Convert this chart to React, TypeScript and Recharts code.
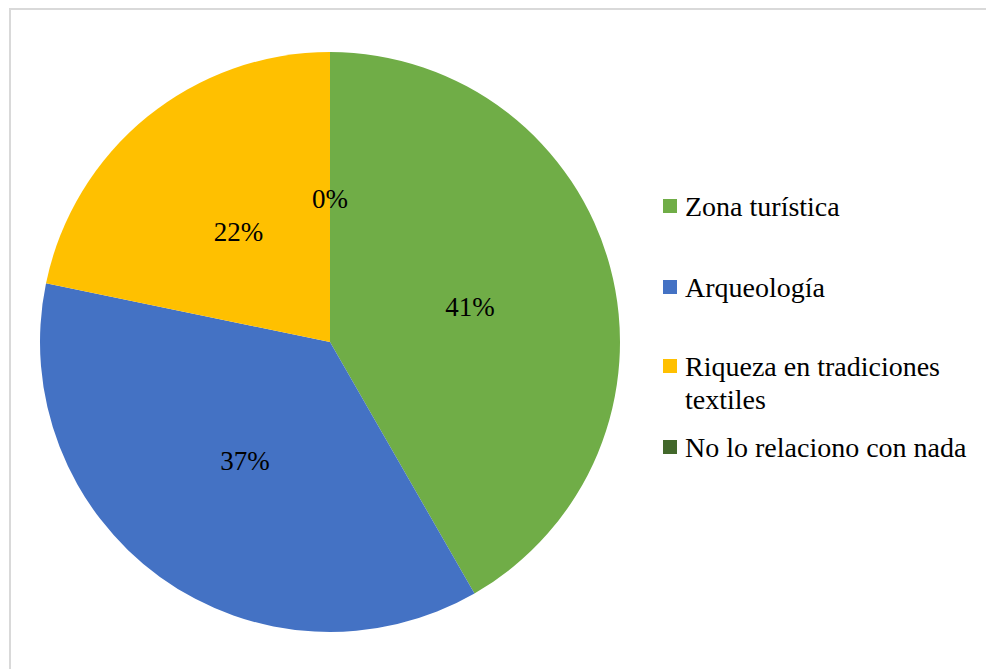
import React from "react"
import { PieChart, Pie, Cell, Legend } from "recharts"

const categories = ["Zona turística", "Arqueología", "Riqueza en tradiciones textiles", "No lo relaciono con nada"]
// slice sizes read from the slice boundaries
const shares = [41.7, 36.55, 21.75, 0]
// percentage labels as printed on the chart
const shareLabels = ["41%", "37%", "22%", "0%"]
const COLORS = ["#70ad47", "#4472c4", "#ffc000", "#43682b"]

const FONT = '"Times New Roman", "Liberation Serif", Tinos, "DejaVu Serif", serif'

const data = categories.map((name, i) => ({ name, value: shares[i], label: shareLabels[i] }))

const RADIAN = Math.PI / 180

function SliceLabel(props: any) {
  const { cx, cy, midAngle, outerRadius, index } = props
  const r = outerRadius * 0.5
  const x = cx + r * Math.cos(-midAngle * RADIAN)
  const y = cy + r * Math.sin(-midAngle * RADIAN) + 2
  return (
    <text x={x} y={y} textAnchor="middle" dominantBaseline="central" fill="#000" fontFamily={FONT} fontSize={27}>
      {data[index].label}
    </text>
  )
}

function LegendList() {
  // Riqueza wraps onto two lines like the original
  const rows = [
    { lines: ["Zona turística"], top: 0 },
    { lines: ["Arqueología"], top: 81 },
    { lines: ["Riqueza en tradiciones", "textiles"], top: 160 },
    { lines: ["No lo relaciono con nada"], top: 241 },
  ]
  return (
    <div style={{ position: "relative", width: 330, height: 300, fontFamily: FONT, fontSize: 28, color: "#000" }}>
      {rows.map((row, i) => (
        <div key={categories[i]} style={{ position: "absolute", left: 0, top: row.top, lineHeight: "33px" }}>
          <span style={{ position: "absolute", left: 0, top: 9, width: 14, height: 14, background: COLORS[i] }} />
          <div style={{ marginLeft: 22, whiteSpace: "nowrap" }}>
            {row.lines.map((l) => (
              <div key={l}>{l}</div>
            ))}
          </div>
        </div>
      ))}
    </div>
  )
}

export default function App() {
  return (
    <div style={{ position: "relative", width: 986, height: 661, overflow: "hidden", background: "#fff" }}>
      <div
        style={{
          position: "absolute",
          left: 1,
          top: 0,
          width: 1200,
          height: 900,
          borderTop: "2px solid #d9d9d9",
          borderLeft: "2px solid #d9d9d9",
        }}
      />
      <PieChart
        width={986}
        height={661}
        margin={{ top: 0, right: 0, bottom: 0, left: 0 }}
        style={{ position: "absolute", left: 0, top: 0 }}
      >
        <Pie
          data={data}
          dataKey="value"
          nameKey="name"
          cx={322}
          cy={334}
          outerRadius={290}
          startAngle={90}
          endAngle={-270}
          stroke="none"
          labelLine={false}
          label={SliceLabel}
          isAnimationActive={false}
        >
          {data.map((d, i) => (
            <Cell key={d.name} fill={COLORS[i]} />
          ))}
        </Pie>
        <Legend content={() => <LegendList />} wrapperStyle={{ left: 655, top: 182, width: 330 }} />
      </PieChart>
    </div>
  )
}
